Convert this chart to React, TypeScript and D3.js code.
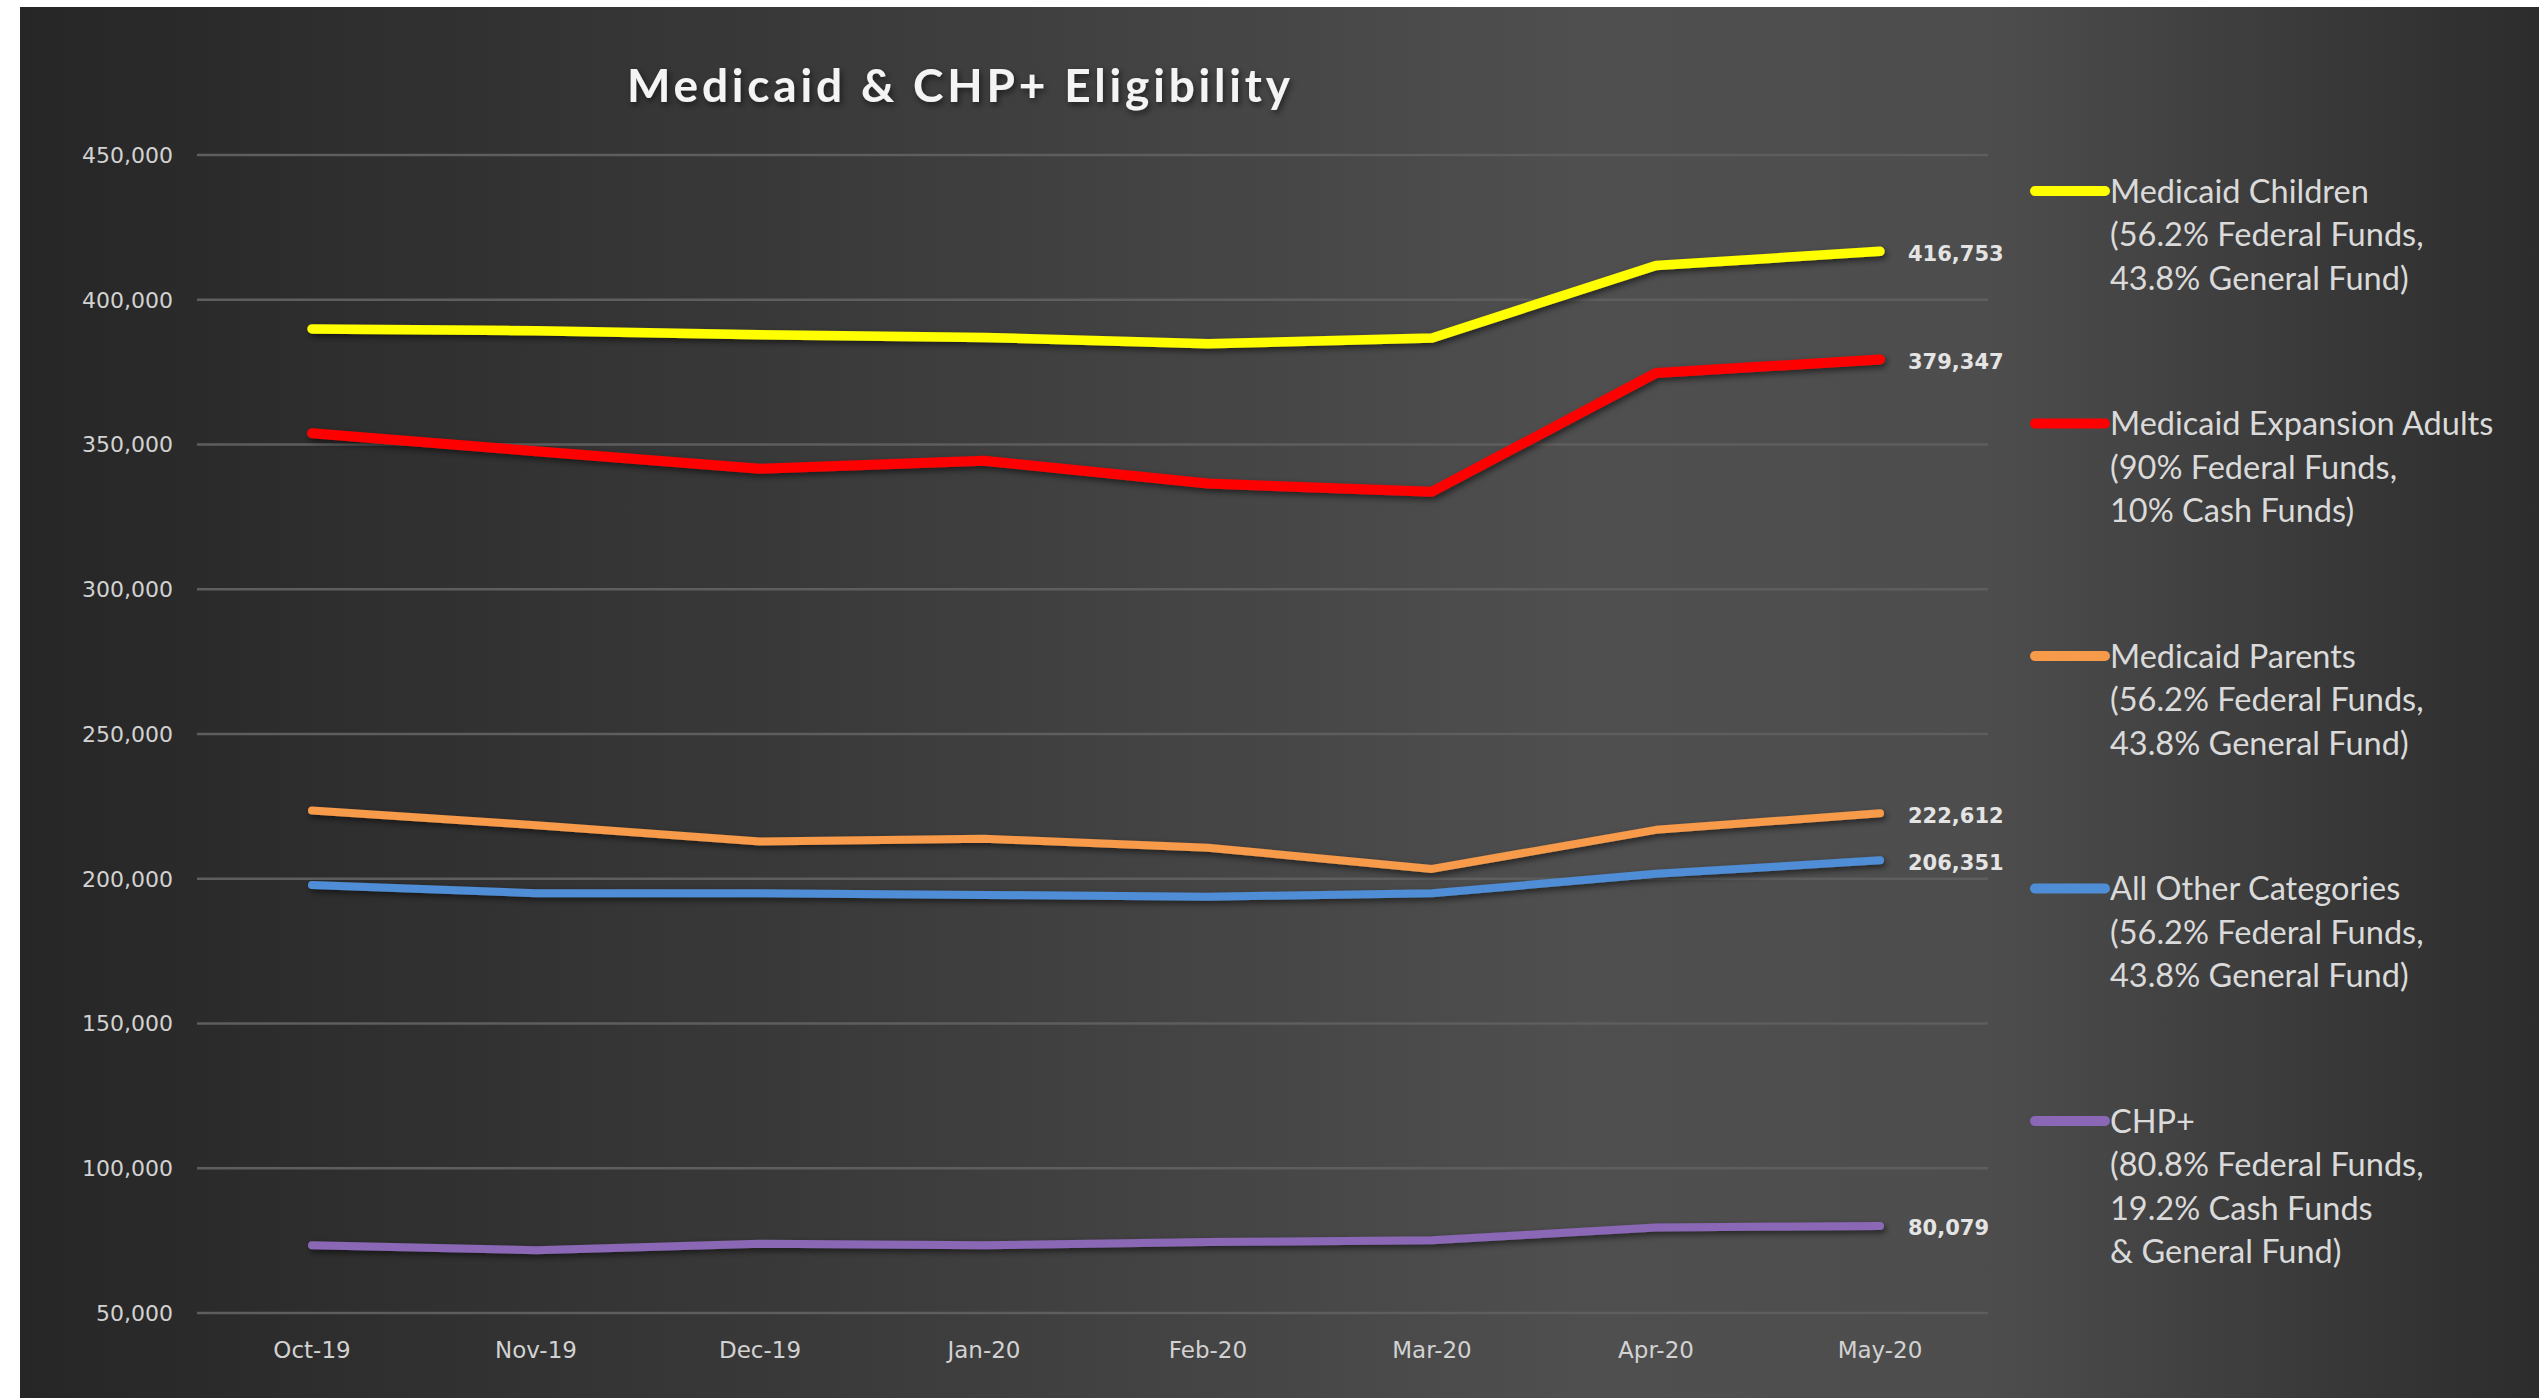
import { useEffect, useRef } from 'react';
import * as d3 from 'd3';

const months = ['Oct-19', 'Nov-19', 'Dec-19', 'Jan-20', 'Feb-20', 'Mar-20', 'Apr-20', 'May-20'];
const yTicks = [50000, 100000, 150000, 200000, 250000, 300000, 350000, 400000, 450000];

const children = [389900, 389300, 387900, 387000, 384800, 386800, 411800, 416753];
const expansionAdults = [353900, 347700, 341600, 344400, 336500, 333700, 374700, 379347];
const parents = [223600, 218500, 212900, 213800, 210700, 203400, 216900, 222612];
const otherCategories = [197800, 195000, 195000, 194400, 193800, 195000, 201700, 206351];
const chpPlus = [73400, 71700, 73900, 73400, 74500, 75100, 79500, 80079];

const seriesNames = ['Medicaid Children', 'Medicaid Expansion Adults', 'Medicaid Parents', 'All Other Categories', 'CHP+'];
const seriesValues = [children, expansionAdults, parents, otherCategories, chpPlus];
const seriesColors = ['#ffff00', '#ff0000', '#f79a4a', '#4f8ed6', '#8a68b6'];
const seriesWidths = [9.5, 10, 8, 8, 8];
const legendLines = [
  ['Medicaid Children', '(56.2% Federal Funds,', '43.8% General Fund)'],
  ['Medicaid Expansion Adults', '(90% Federal Funds,', '10% Cash Funds)'],
  ['Medicaid Parents', '(56.2% Federal Funds,', '43.8% General Fund)'],
  ['All Other Categories', '(56.2% Federal Funds,', '43.8% General Fund)'],
  ['CHP+', '(80.8% Federal Funds,', '19.2% Cash Funds', '& General Fund)'],
];

const W = 2539;
const H = 1398;

export default function App() {
  const svgRef = useRef<SVGSVGElement>(null);

  useEffect(() => {
    const svg = d3.select(svgRef.current).attr('width', W).attr('height', H);
    svg.selectAll('*').remove();

    const defs = svg.append('defs');
    const grad = defs.append('linearGradient').attr('id', 'bg').attr('x1', 0).attr('x2', 1).attr('y1', 0).attr('y2', 0);
    [[0, '#262626'], [0.35, '#3c3c3c'], [0.62, '#4f4f4f'], [0.78, '#4d4d4d'], [1, '#2c2c2c']].forEach(([o, c]) =>
      grad.append('stop').attr('offset', o as number).attr('stop-color', c as string));
    defs.append('filter').attr('id', 'shadow').attr('x', '-5%').attr('y', '-50%').attr('width', '110%').attr('height', '200%')
      .append('feDropShadow').attr('dx', 2).attr('dy', 3).attr('stdDeviation', 3)
      .attr('flood-color', '#000').attr('flood-opacity', 0.55);

    svg.append('rect').attr('width', W).attr('height', H).attr('fill', '#ffffff');
    svg.append('rect').attr('x', 20).attr('y', 7).attr('width', W - 20).attr('height', H - 7).attr('fill', 'url(#bg)');

    const x = d3.scalePoint<string>().domain(months).range([312, 1880]);
    const y = d3.scaleLinear().domain([50000, 450000]).range([1313, 155]);

    // gridlines + y labels
    const grid = svg.append('g');
    grid.selectAll('line').data(yTicks).enter().append('line')
      .attr('x1', 197).attr('x2', 1988)
      .attr('y1', d => y(d)).attr('y2', d => y(d))
      .attr('stroke', '#5e5e5e').attr('stroke-width', 2.5);
    grid.selectAll('text').data(yTicks).enter().append('text')
      .attr('x', 173).attr('y', d => y(d)).attr('dy', '0.36em')
      .attr('text-anchor', 'end')
      .attr('font-family', 'DejaVu Sans, Verdana, sans-serif').attr('font-size', 22)
      .attr('fill', '#d2d2d2')
      .text(d => d3.format(',')(d));

    // x labels
    svg.append('g').selectAll('text').data(months).enter().append('text')
      .attr('x', d => x(d)!).attr('y', 1350).attr('dy', '0.36em')
      .attr('text-anchor', 'middle')
      .attr('font-family', 'DejaVu Sans, Verdana, sans-serif').attr('font-size', 23)
      .attr('fill', '#d2d2d2')
      .text(d => d);

    // lines
    const line = d3.line<number>().x((_, i) => x(months[i])!).y(d => y(d));
    const lines = svg.append('g').attr('filter', 'url(#shadow)');
    seriesValues.forEach((vals, i) => {
      lines.append('path')
        .attr('d', line(vals))
        .attr('fill', 'none')
        .attr('stroke', seriesColors[i])
        .attr('stroke-width', seriesWidths[i])
        .attr('stroke-linecap', 'round')
        .attr('stroke-linejoin', 'round');
    });

    // end labels
    svg.append('g').selectAll('text').data(seriesValues).enter().append('text')
      .attr('x', 1908).attr('y', d => y(d[d.length - 1]) + 2).attr('dy', '0.36em')
      .attr('font-family', 'DejaVu Sans, Verdana, sans-serif').attr('font-size', 21).attr('font-weight', 700)
      .attr('fill', '#e4e4e4')
      .text(d => d3.format(',')(d[d.length - 1]));

    // legend
    const legend = svg.append('g');
    seriesNames.forEach((name, i) => {
      const ly = 191 + i * 232.5;
      legend.append('line')
        .attr('x1', 2035).attr('x2', 2105).attr('y1', ly).attr('y2', ly)
        .attr('stroke', seriesColors[i]).attr('stroke-width', 10).attr('stroke-linecap', 'round');
      legendLines[i].forEach((t, j) => {
        legend.append('text')
          .attr('x', 2110).attr('y', ly + j * 43.5).attr('dy', '0.36em')
          .attr('font-family', 'Lato, sans-serif').attr('font-size', 32.5)
          .attr('fill', '#dadada')
          .text(t);
      });
    });

    // title
    svg.append('text')
      .attr('x', 627).attr('y', 102)
      .attr('font-family', 'Lato, sans-serif').attr('font-size', 46).attr('font-weight', 700)
      .attr('textLength', 663).attr('lengthAdjust', 'spacing')
      .attr('fill', '#f4f4f4').attr('filter', 'url(#shadow)')
      .text('Medicaid & CHP+ Eligibility');
  }, []);

  return (
    <div style={{ position: 'absolute', left: 0, top: 0, width: W, height: H }}>
      <svg ref={svgRef} style={{ display: 'block' }} />
    </div>
  );
}
